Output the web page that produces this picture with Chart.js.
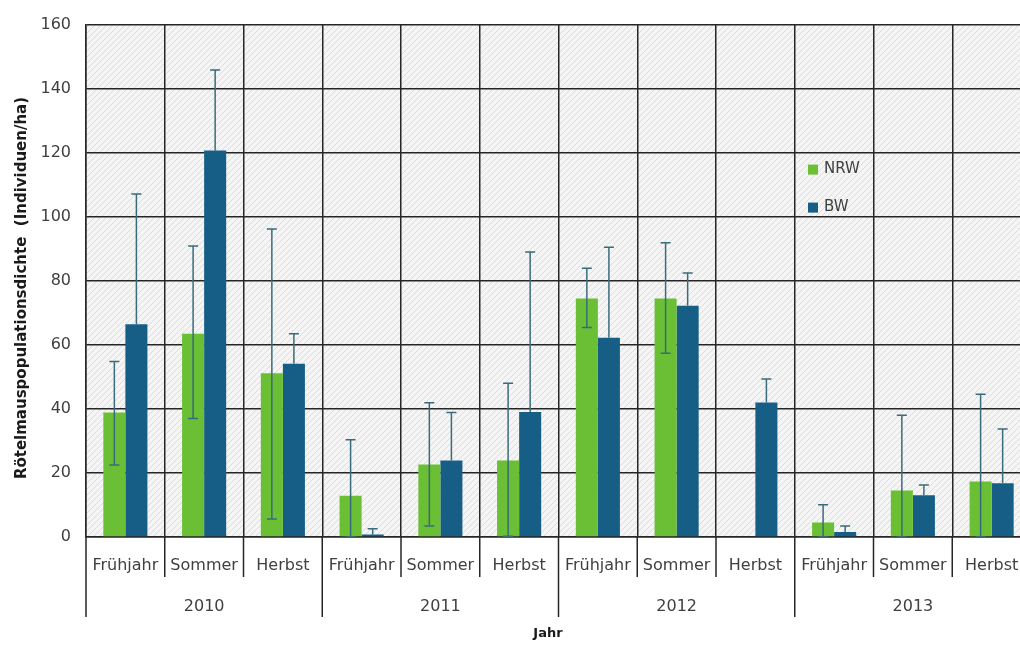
<!DOCTYPE html>
<html>
<head>
<meta charset="utf-8">
<script src="https://cdn.jsdelivr.net/npm/chart.js@4"></script>
<style>
  html, body { margin: 0; padding: 0; background: #fff; overflow: hidden; }
</style>
</head>
<body>
<canvas id="chart" width="1040" height="646"></canvas>
<script>
// seasons per year, years
const seasons = ['Frühjahr', 'Sommer', 'Herbst'];
const years = ['2010', '2011', '2012', '2013'];
const categories = years.flatMap(() => seasons);

// population density (Individuen/ha)
const nrw     = [38.9, 63.5, 51.1, 12.9, 22.6, 23.9, 74.5, 74.5, null, 4.5, 14.5, 17.3];
const nrwLow  = [22.5, 37.0, 5.6, 0, 3.4, 0.2, 65.4, 57.4, null, 0, 0, 0];
const nrwHigh = [54.8, 90.9, 96.2, 30.4, 41.9, 48.0, 83.9, 91.9, null, 10.1, 38.0, 44.6];

const bw      = [66.4, 120.7, 54.1, 0.8, 23.9, 39.0, 62.2, 72.2, 42.0, 1.6, 13.0, 16.8];
const bwHigh  = [107.1, 145.8, 63.5, 2.6, 38.9, 89.0, 90.5, 82.4, 49.3, 3.4, 16.2, 33.7];

const yTicks = [0, 20, 40, 60, 80, 100, 120, 140, 160];
const yTitle = 'Rötelmauspopulationsdichte  (Individuen/ha)';

const GRID = '#262626';
const TEXT = '#404040';
const ERR = '#3a6b7c';
const FONT = '"DejaVu Sans"';

// light grey hatch for the plot area
function hatch() {
  const s = 6;
  const c = document.createElement('canvas');
  c.width = s; c.height = s;
  const g = c.getContext('2d');
  g.fillStyle = '#f5f5f5';
  g.fillRect(0, 0, s, s);
  g.strokeStyle = '#dcdcdc';
  g.lineWidth = 1;
  g.beginPath();
  g.moveTo(0, s); g.lineTo(s, 0);
  g.moveTo(-1, 1); g.lineTo(1, -1);
  g.moveTo(s - 1, s + 1); g.lineTo(s + 1, s - 1);
  g.stroke();
  return g.createPattern(c, 'repeat');
}

const backgroundPlugin = {
  id: 'hatchBg',
  beforeDraw(chart) {
    const {ctx, chartArea: a} = chart;
    ctx.save();
    ctx.fillStyle = hatch();
    ctx.fillRect(a.left, a.top, a.right - a.left, a.bottom - a.top);
    ctx.restore();
  }
};

const errorBarPlugin = {
  id: 'errorBars',
  afterDatasetsDraw(chart) {
    const {ctx, chartArea: a} = chart;
    const y = chart.scales.y;
    const ranges = [
      {low: nrwLow, high: nrwHigh, values: nrw},
      {low: null, high: bwHigh, values: bw}
    ];
    ctx.save();
    ctx.beginPath();
    ctx.rect(a.left, a.top - 2, a.right - a.left, a.bottom - a.top + 2);
    ctx.clip();
    ctx.strokeStyle = ERR;
    ctx.lineWidth = 1.5;
    ranges.forEach((r, di) => {
      const meta = chart.getDatasetMeta(di);
      meta.data.forEach((bar, i) => {
        if (r.high[i] == null) return;
        const x = bar.x;
        const lo = r.low ? r.low[i] : r.values[i];
        const yHi = y.getPixelForValue(r.high[i]);
        const yLo = y.getPixelForValue(lo);
        ctx.beginPath();
        ctx.moveTo(x, yLo); ctx.lineTo(x, yHi);
        ctx.moveTo(x - 5, yHi); ctx.lineTo(x + 5, yHi);
        if (r.low) { ctx.moveTo(x - 5, yLo); ctx.lineTo(x + 5, yLo); }
        ctx.stroke();
      });
    });
    ctx.restore();
  }
};

const groupAxisPlugin = {
  id: 'groupAxis',
  afterDraw(chart) {
    const {ctx, chartArea: a} = chart;
    const x = chart.scales.x;
    const step = x.getPixelForValue(1) - x.getPixelForValue(0);
    ctx.save();
    ctx.strokeStyle = GRID;
    ctx.lineWidth = 1.5;
    for (let i = 0; i <= categories.length; i++) {
      const px = x.getPixelForValue(0) - step / 2 + i * step;
      const long = i % seasons.length === 0;
      ctx.beginPath();
      ctx.moveTo(px, a.bottom);
      ctx.lineTo(px, a.bottom + (long ? 80 : 40));
      ctx.stroke();
    }
    ctx.fillStyle = TEXT;
    ctx.font = '16px ' + FONT;
    ctx.textAlign = 'center';
    ctx.textBaseline = 'middle';
    years.forEach((yr, j) => {
      const cx = (x.getPixelForValue(j * 3) + x.getPixelForValue(j * 3 + 2)) / 2;
      ctx.fillText(yr, cx, a.bottom + 70);
    });

    // axis titles
    ctx.fillStyle = '#1a1a1a';
    ctx.font = 'bold 13px ' + FONT;
    ctx.fillText('Jahr', (a.left + 1020) / 2 - 5, 634);
    ctx.save();
    ctx.translate(22, 288);
    ctx.rotate(-Math.PI / 2);
    ctx.font = 'bold 15px ' + FONT;
    ctx.fillText(yTitle, 0, 0);
    ctx.restore();

    // legend inside the plot
    ctx.font = '15px ' + FONT;
    ctx.textAlign = 'left';
    chart.data.datasets.forEach((ds, i) => {
      const lx = a.left + 722;
      const ly = a.top + 145 + i * 38;
      ctx.fillStyle = ds.backgroundColor;
      ctx.fillRect(lx, ly - 5, 10, 10);
      ctx.fillStyle = TEXT;
      ctx.fillText(ds.label, lx + 16, ly);
    });
    ctx.restore();
  }
};

new Chart(document.getElementById('chart'), {
  type: 'bar',
  data: {
    labels: categories,
    datasets: [
      { label: 'NRW', data: nrw, backgroundColor: '#6abf35', barPercentage: 1, categoryPercentage: 0.56 },
      { label: 'BW', data: bw, backgroundColor: '#175e87', barPercentage: 1, categoryPercentage: 0.56 }
    ]
  },
  options: {
    responsive: false,
    animation: false,
    layout: { padding: { top: 13, right: 9, left: 0, bottom: 0 } },
    plugins: {
      legend: { display: false },
      tooltip: { enabled: false }
    },
    scales: {
      x: {
        ticks: { color: TEXT, font: { size: 16, family: FONT }, maxRotation: 0, autoSkip: false, padding: 19 },
        grid: { color: GRID, lineWidth: 1.5, drawTicks: false, offset: true },
        border: { color: GRID, width: 1.5 },
        afterFit(scale) { scale.height = 109; }
      },
      y: {
        min: 0, max: 160,
        afterBuildTicks(scale) { scale.ticks = yTicks.map(v => ({ value: v })); },
        ticks: { color: TEXT, font: { size: 16, family: FONT }, padding: 15 },
        grid: { color: GRID, lineWidth: 1.5, drawTicks: false },
        border: { color: GRID, width: 1.5 },
        afterFit(scale) { scale.width = 86; }
      }
    }
  },
  plugins: [backgroundPlugin, errorBarPlugin, groupAxisPlugin]
});
</script>
</body>
</html>
